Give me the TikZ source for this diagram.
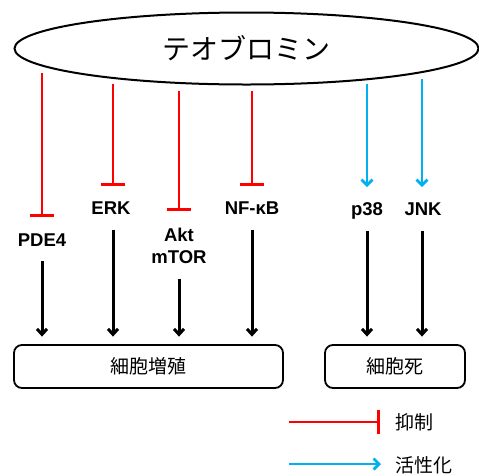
\documentclass[tikz,border=0pt]{standalone}
\usepackage{fontspec}
\setmainfont{Liberation Sans}
\newfontfamily\jpfont{Noto Sans CJK JP}
\usetikzlibrary{arrows.meta,shapes.geometric}
\definecolor{inhred}{RGB}{255,0,0}
\definecolor{actblue}{RGB}{0,176,240}

\begin{document}
\begin{tikzpicture}[x=1pt,y=-1pt,
  mol/.style={font=\fontsize{18.5}{22}\selectfont\bfseries, inner sep=0pt,
    text height=13.5pt, text depth=0pt},
  molstack/.style={font=\fontsize{18.5}{22}\selectfont\bfseries, inner sep=0pt,
    align=center},
  outcome/.style={draw, rounded corners=8pt, line width=1.8pt, inner sep=0pt,
    font=\jpfont\fontsize{19}{22}\selectfont},
  legendtext/.style={anchor=west, inner sep=0pt, font=\jpfont\fontsize{19}{22}\selectfont},
  inhibit/.style={draw=inhred, line width=2.8pt, -{Bar[width=24pt]}},
  activate/.style={draw=actblue, line width=2.8pt,
    -{Straight Barb[length=5.5pt,width=11pt]}},
  flow/.style={draw=black, line width=3pt,
    -{Straight Barb[length=5.5pt,width=10pt]}},
]
\useasboundingbox (0,0) rectangle (479,475);

% compound
\node[draw, ellipse, line width=2pt, minimum width=464pt, minimum height=72pt,
      inner sep=0pt, font=\jpfont\fontsize{28}{30}\selectfont] (drug) at (246.5,48.5) {テオブロミン};

% targets
\node[mol] (pde) at (42,240) {PDE4};
\node[mol] (erk) at (111,208) {ERK};
\node[molstack] (akt) at (179,246) {Akt\\mTOR};
\node[mol] (nfkb) at (252,208) {NF-κB};
\node[mol] (p38) at (367,209) {p38};
\node[mol] (jnk) at (423,209) {JNK};

% outcomes
\node[outcome, minimum width=269pt, minimum height=43pt] (prolif) at (148.5,366.5) {細胞増殖};
\node[outcome, minimum width=140pt, minimum height=43pt] (death) at (395,366.5) {細胞死};

% connector origins just below the ellipse
\coordinate (sPde) at (42,73);
\coordinate (sErk) at (113,84);
\coordinate (sAkt) at (179,91);
\coordinate (sNf) at (252,91);
\coordinate (sP38) at (367,84);
\coordinate (sJnk) at (422,79);

% inhibition
\draw[inhibit, shorten >=16pt] (sPde) -- (sPde |- pde.north);
\draw[inhibit, shorten >=15.5pt] (sErk) -- (sErk |- erk.north);
\draw[inhibit, shorten >=17pt] (sAkt) -- (sAkt |- akt.north);
\draw[inhibit, shorten >=15.5pt] (sNf) -- (sNf |- nfkb.north);

% activation
\draw[activate, shorten >=15pt] (sP38) -- (sP38 |- p38.north);
\draw[activate, shorten >=15pt] (sJnk) -- (sJnk |- jnk.north);

% downstream effects
\draw[flow, shorten <=14pt, shorten >=7.5pt] (pde.south) -- (pde.south |- prolif.north);
\draw[flow, shorten <=15pt, shorten >=7.5pt] (sErk |- erk.south) -- (sErk |- prolif.north);
\draw[flow, shorten <=14.5pt, shorten >=7.5pt] (akt.south) -- (akt.south |- prolif.north);
\draw[flow, shorten <=15pt, shorten >=7.5pt] (nfkb.south) -- (nfkb.south |- prolif.north);
\draw[flow, shorten <=15pt, shorten >=7.5pt] (sP38 |- p38.south) -- (sP38 |- death.north);
\draw[flow, shorten <=15pt, shorten >=7.5pt] (sJnk |- jnk.south) -- (sJnk |- death.north);

% legend
\coordinate (lgRedA) at (289,422);
\coordinate (lgRedB) at (380,422);
\coordinate (lgBlueA) at (289,464);
\coordinate (lgBlueB) at (381,464);
\draw[inhibit] (lgRedA) -- (lgRedB);
\draw[activate] (lgBlueA) -- (lgBlueB);
\node[legendtext] (lgInh) at (395,422) {抑制};
\node[legendtext] (lgAct) at (395,465) {活性化};
\end{tikzpicture}
\end{document}
